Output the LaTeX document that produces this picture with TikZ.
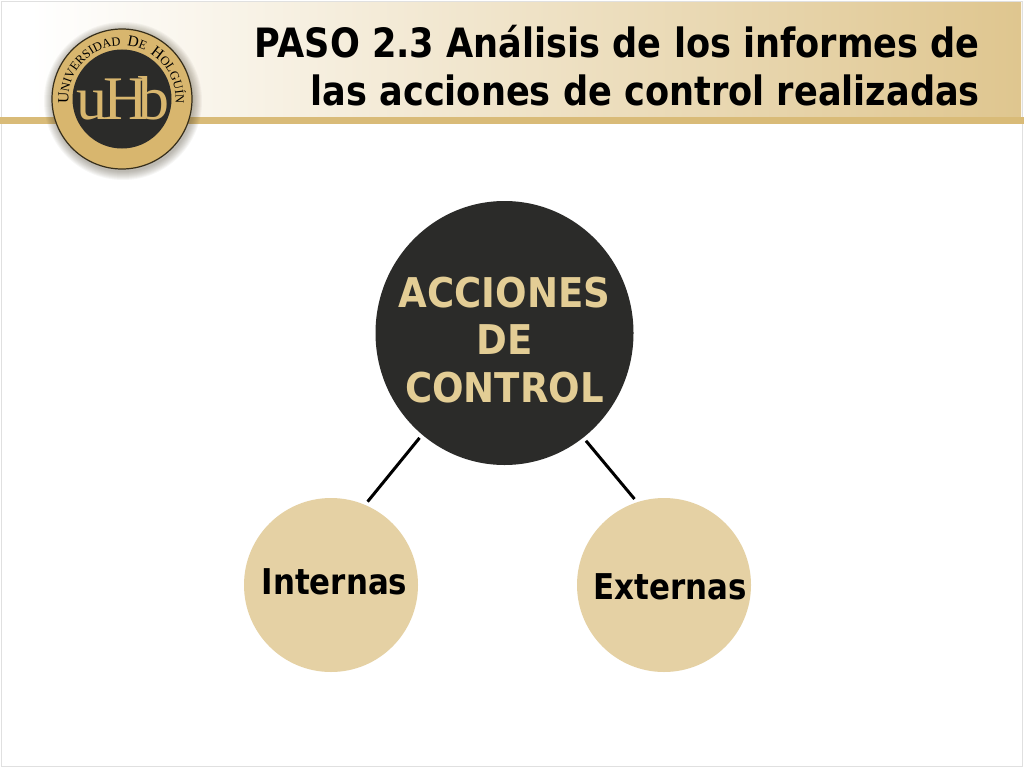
\documentclass[tikz,border=0pt]{standalone}
\usepackage{fontspec}
\usepackage{xcolor}
\setmainfont[FakeStretch=0.87]{DejaVu Sans}
\newfontfamily\widefont[FakeStretch=0.905]{DejaVu Sans}
\newfontfamily\logofont{Liberation Serif}
\newcommand{\logobig}{\logofont\fontsize{15.5}{16}\selectfont}
\newcommand{\logosmall}{\logofont\fontsize{12.5}{13}\selectfont}
\usetikzlibrary{decorations.text,shapes.geometric}
\definecolor{darkfill}{HTML}{2B2B29}
\definecolor{sandfill}{HTML}{E5D1A4}
\definecolor{sandtext}{HTML}{E3CD95}
\definecolor{goldband}{HTML}{D9BB78}
\definecolor{goldlogo}{HTML}{D8B66E}
\definecolor{headtan}{HTML}{DFC68F}
\begin{document}
\begin{tikzpicture}[x=1pt,y=-1pt,
    main node/.style={ellipse,draw=none,fill=darkfill,inner sep=0pt,minimum width=258pt,minimum height=264pt},
    small node/.style={circle,draw=none,fill=sandfill,inner sep=0pt,minimum size=174pt},
    small text/.style={font=\bfseries\fontsize{35.5}{36}\selectfont,text=black,anchor=base,inner sep=0pt},
    link/.style={line width=3pt,black}]
    \useasboundingbox (0,0) rectangle (1024,768);
    \fill[white] (0,0) rectangle (1024,768);
    \draw[black!12,line width=1pt] (1.5,1.5) rectangle (1022.5,766.5);
    % heading
    \shade[left color=white,middle color=white!55!headtan,right color=headtan] (30,3) rectangle (1021,117);
    \fill[white] (3,3) rectangle (30,117);
    \fill[goldband] (0,117) rectangle (1024,124);
    \node[font=\bfseries\fontsize{40.4}{48}\selectfont,text=black,align=right,anchor=north east,inner sep=0pt] (TT) at (980,25) {PASO 2.3 Análisis de los informes de\\las acciones de control realizadas};
    % seal
    \foreach \r in {79,78,77,76,75,74,73,72,71}
      \fill[black!70!goldlogo,opacity=0.045] (123,101) circle (\r);
    \node[circle,draw=black!75!goldlogo,line width=1.2pt,fill=goldlogo,inner sep=0pt,minimum size=140pt] (SL) at (122,99) {};
    \node[circle,fill=darkfill,inner sep=0pt,minimum size=99pt] (SC) at (122,99) {};
    \path[decorate,decoration={text along path,text align=center,
      text={|\logobig|U|\logosmall|NIVERSIDAD ||{ }|\logobig|D|\logosmall|E ||{ }|\logobig|H|\logosmall|OLGUÍN}}]
      (68.9,106.5) arc[start angle=-188,end angle=8,radius=53.6];
    \node[font=\logofont\fontsize{62}{62}\selectfont,text=goldlogo,inner sep=0pt] (SN) at (123,98) {u\kern-4ptH\kern-9ptb};
    % circles
    \node[main node] (AC) at (504.5,333) {};
    \node[small node] (IN) at (331,585) {};
    \node[small node] (EX) at (664,585) {};
    \node[font=\widefont\bfseries\fontsize{41}{47.5}\selectfont,text=sandtext,align=center,inner sep=0pt] (ACT) at (504.5,340) {ACCIONES\\DE\\CONTROL};
    \node[small text] (INT) at (334.5,594) {Internas};
    \node[small text] (EXT) at (670,599) {Externas};
    % links
    \draw[link,shorten <=4pt,shorten >=4pt] (AC.-129.4) -- (IN.67.4);
    \draw[link,shorten <=4pt,shorten >=4pt] (AC.-53.3) -- (EX.108.6);
\end{tikzpicture}
\end{document}
